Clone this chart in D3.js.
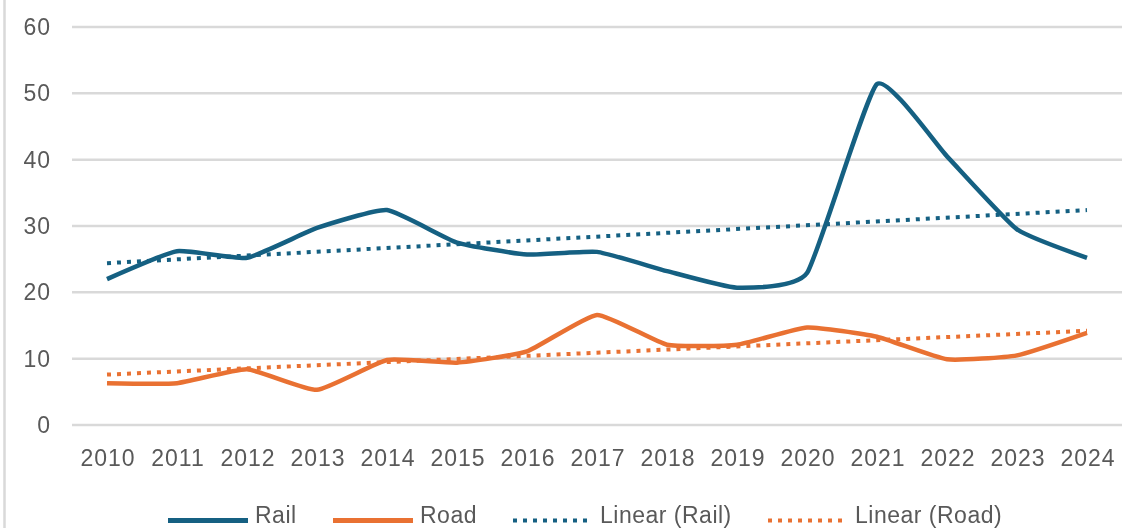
<!DOCTYPE html>
<head>
  <meta charset="utf-8">
  <script src="https://d3js.org/d3.v7.min.js"></script>
  <style>
    body { margin:0;position:fixed;top:0;right:0;bottom:0;left:0;background:#fff; }
    text { font-family: "Liberation Sans", Arial, sans-serif; fill:#595959; }
  </style>
</head>

<body>
  <script>
    // data
    var years = ["2010","2011","2012","2013","2014","2015","2016","2017","2018","2019","2020","2021","2022","2023","2024"]
    var rail = [22.0, 26.2, 25.2, 29.7, 32.4, 27.5, 25.7, 26.1, 23.2, 20.7, 22.9, 51.4, 40.5, 29.5, 25.2]
    var road = [6.3, 6.3, 8.4, 5.3, 9.8, 9.4, 11.1, 16.6, 12.1, 12.1, 14.7, 13.3, 9.9, 10.5, 13.9]
    // trendline end values (first year, last year)
    var trendRail = [24.4, 32.4]
    var trendRoad = [7.6, 14.2]
    var yTicks = [0, 10, 20, 30, 40, 50, 60]
    var legendNames = ["Rail", "Road", "Linear (Rail)", "Linear (Road)"]

    var blue = "#156082", orange = "#E97132"

    var svg = d3.select("body").append("svg")
      .attr("width", 1135)
      .attr("height", 528)

    // chart frame (only the left edge is visible)
    svg.append("line")
      .attr("x1", 4.5).attr("x2", 4.5).attr("y1", 0).attr("y2", 528)
      .attr("stroke", "#d9d9d9").attr("stroke-width", 2.5)

    var x = d3.scaleBand().domain(years).range([72, 1122]).padding(0)
    var cx = function(d){ return x(d) + x.bandwidth()/2 }
    var y = d3.scaleLinear().domain([0, 60]).range([425, 27])

    // gridlines
    svg.selectAll(".grid").data(yTicks).enter().append("line")
      .attr("class", "grid")
      .attr("x1", 72).attr("x2", 1122)
      .attr("y1", function(d){ return y(d) }).attr("y2", function(d){ return y(d) })
      .attr("stroke", "#d9d9d9").attr("stroke-width", 2.5)

    // y labels
    svg.selectAll(".ylab").data(yTicks).enter().append("text")
      .attr("class", "ylab")
      .attr("x", 51).attr("y", function(d){ return y(d) })
      .attr("dy", "0.35em")
      .attr("text-anchor", "end")
      .style("font-size", "23px")
      .style("letter-spacing", "1px")
      .text(function(d){ return d })

    // x labels
    svg.selectAll(".xlab").data(years).enter().append("text")
      .attr("class", "xlab")
      .attr("x", function(d){ return cx(d) + 1 }).attr("y", 458)
      .attr("dy", "0.35em")
      .attr("text-anchor", "middle")
      .style("font-size", "23px")
      .style("letter-spacing", "1px")
      .text(function(d){ return d })

    // excel-style smoothed lines, fairly tight
    var line = d3.line()
      .x(function(d, i){ return cx(years[i]) })
      .y(function(d){ return y(d) })
      .curve(d3.curveCardinal.tension(0.55))

    svg.append("path").datum(rail)
      .attr("d", line).attr("fill", "none")
      .attr("stroke", blue).attr("stroke-width", 4.5)
      .attr("stroke-linejoin", "round")

    svg.append("path").datum(road)
      .attr("d", line).attr("fill", "none")
      .attr("stroke", orange).attr("stroke-width", 4.5)
      .attr("stroke-linejoin", "round")

    // trendlines
    var first = years[0], last = years[years.length - 1]
    ;[[trendRail, blue], [trendRoad, orange]].forEach(function(t){
      svg.append("line")
        .attr("x1", cx(first)).attr("x2", cx(last))
        .attr("y1", y(t[0][0])).attr("y2", y(t[0][1]))
        .attr("stroke", t[1]).attr("stroke-width", 4)
        .attr("stroke-dasharray", "4,6")
    })

    // legend
    var legendX = [168, 333, 513, 768]
    var legendStyle = [[blue, null], [orange, null], [blue, "4,6"], [orange, "4,6"]]
    legendNames.forEach(function(name, i){
      svg.append("line")
        .attr("x1", legendX[i]).attr("x2", legendX[i] + 80)
        .attr("y1", 520.5).attr("y2", 520.5)
        .attr("stroke", legendStyle[i][0])
        .attr("stroke-width", legendStyle[i][1] ? 4 : 5)
        .attr("stroke-dasharray", legendStyle[i][1])
      svg.append("text")
        .attr("x", legendX[i] + 87).attr("y", 523)
        .style("font-size", "23px")
        .style("letter-spacing", "0.5px")
        .text(name)
    })
  </script>
</body>
